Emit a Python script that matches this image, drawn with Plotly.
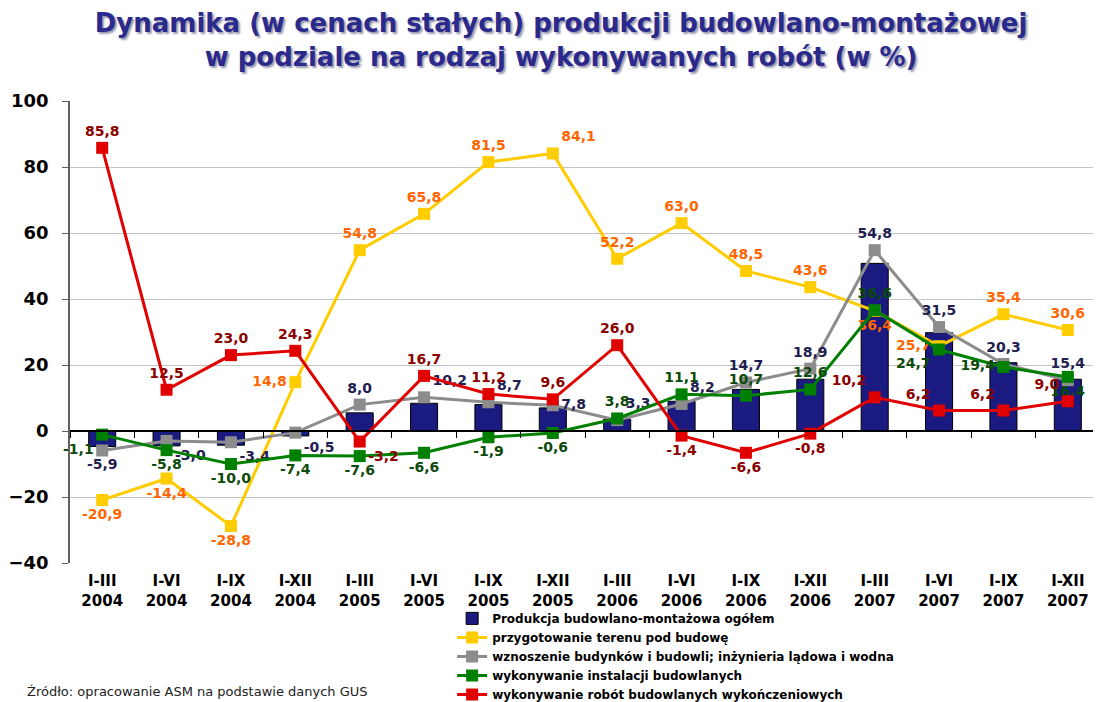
import plotly.graph_objects as go

periods = ["I-III", "I-VI", "I-IX", "I-XII"] * 4
years = ["2004"] * 4 + ["2005"] * 4 + ["2006"] * 4 + ["2007"] * 4
categories = [f"{p}<br>{y}" for p, y in zip(periods, years)]

total = [-4.7, -4.5, -4.3, -1.5, 5.5, 8.4, 8.0, 7.0, 3.6, 9.0, 12.6, 15.7, 50.8, 29.8, 20.7, 15.7]
teren = [-20.9, -14.4, -28.8, 14.8, 54.8, 65.8, 81.5, 84.1, 52.2, 63.0, 48.5, 43.6, 36.4, 25.7, 35.4, 30.6]
wznoszenie = [-5.9, -3.0, -3.4, -0.5, 8.0, 10.2, 8.7, 7.8, 3.3, 8.2, 14.7, 18.9, 54.8, 31.5, 20.3, 15.4]
instalacje = [-1.1, -5.8, -10.0, -7.4, -7.6, -6.6, -1.9, -0.6, 3.8, 11.1, 10.7, 12.6, 36.6, 24.7, 19.4, 16.4]
wykonczeniowe = [85.8, 12.5, 23.0, 24.3, -3.2, 16.7, 11.2, 9.6, 26.0, -1.4, -6.6, -0.8, 10.2, 6.2, 6.2, 9.0]

names = [
    "Produkcja budowlano-montażowa ogółem",
    "przygotowanie terenu pod budowę",
    "wznoszenie budynków i budowli; inżynieria lądowa i wodna",
    "wykonywanie instalacji budowlanych",
    "wykonywanie robót budowlanych wykończeniowych",
]

pos_teren = ["bottom center", "bottom center", "bottom center", "middle left", "top center",
             "top center", "top center", "top right", "top center", "top center", "top center",
             "top center", "bottom center", "middle left", "top center", "top center"]
pos_wzn = ["bottom center", "bottom right", "bottom right", "bottom right", "top center",
           "top right", "top right", "middle right", "top right", "top right", "top center",
           "top center", "top center", "top center", "top center", "top center"]
pos_inst = ["bottom left", "bottom center", "bottom center", "bottom center", "bottom center",
            "bottom center", "bottom center", "bottom center", "top center", "top center",
            "top center", "top center", "top center", "bottom left", "middle left", "bottom center"]
pos_wyk = ["top center", "top center", "top center", "top center", "bottom right", "top center",
           "top center", "top center", "top center", "bottom center", "bottom center",
           "bottom center", "top left", "top left", "top left", "top left"]

FONT = "DejaVu Sans, Verdana, sans-serif"


def fmt(v):
    return f"{v:.1f}".replace(".", ",")


fig = go.Figure()
fig.add_trace(go.Bar(
    x=categories, y=total, name=names[0], width=0.42,
    marker=dict(color="#1a1a80", line=dict(color="#000000", width=1)),
))

series = [
    (teren, names[1], "#ffcc00", "#ff6600", pos_teren),
    (wznoszenie, names[2], "#8c8c8c", "#1f2050", pos_wzn),
    (instalacje, names[3], "#008000", "#0b4a0b", pos_inst),
    (wykonczeniowe, names[4], "#e00000", "#8b0000", pos_wyk),
]
for vals, nm, col, tcol, pos in series:
    fig.add_trace(go.Scatter(
        x=categories, y=vals, name=nm, mode="lines+markers+text",
        line=dict(color=col, width=3),
        marker=dict(symbol="square", size=12, color=col),
        text=[fmt(v) for v in vals], textposition=pos,
        textfont=dict(family=FONT, size=14, color=tcol, weight="bold"),
        cliponaxis=False,
    ))

# the page body adds an 8px margin, so the figure is 8px smaller than the window
fig.update_layout(
    width=1093, height=694,
    paper_bgcolor="white", plot_bgcolor="white",
    margin=dict(l=62, r=1, t=93, b=139, autoexpand=False),
    font=dict(family=FONT, color="black"),
    title=dict(
        text="<b>Dynamika (w cenach stałych) produkcji budowlano-montażowej<br>w podziale na rodzaj wykonywanych robót (w %)</b>",
        x=0.506, xanchor="center", y=0.965, yanchor="top",
        font=dict(family=FONT, size=26, color="#2a2a8c", shadow="2px 2px 2px #9a9ab0"),
    ),
    showlegend=True,
    legend=dict(
        x=0.371, xanchor="left", y=-0.0885, yanchor="top",
        font=dict(family=FONT, size=12, color="black", weight="bold"),
        bgcolor="rgba(0,0,0,0)", tracegroupgap=0,
    ),
    xaxis=dict(
        type="category", showgrid=False, showline=False, ticks="",
        tickfont=dict(family=FONT, size=15, color="black", weight="bold"),
        range=[-0.5, 15.5], ticklabelstandoff=7,
    ),
    xaxis2=dict(
        overlaying="x", anchor="free", position=40 / 140, side="bottom",
        range=[-0.5, 15.5], showgrid=False, showline=True, linecolor="black", linewidth=1.5,
        ticks="outside", ticklen=6, tickcolor="black",
        tickvals=[i + 0.5 for i in range(-1, 16)], showticklabels=False, zeroline=False,
    ),
    yaxis=dict(
        range=[-40, 100], dtick=20, showgrid=True, gridcolor="#c4c4c4", gridwidth=1,
        showline=True, linecolor="#606060", linewidth=1.5, ticks="outside", ticklen=6,
        tickcolor="#606060", zeroline=False,
        tickfont=dict(family=FONT, size=18, color="black", weight="bold"),
        ticklabelstandoff=10,
    ),
    annotations=[dict(
        text="Źródło: opracowanie ASM na podstawie danych GUS",
        xref="paper", yref="paper", x=-0.0437, y=-0.279, xanchor="left", yanchor="middle",
        showarrow=False, font=dict(family=FONT, size=13, color="#222222"),
    )],
)
# helper trace that activates xaxis2 (axis line at y=0 with category-boundary ticks)
fig.add_trace(go.Scatter(x=[None], y=[None], xaxis="x2", showlegend=False, hoverinfo="skip"))

fig.write_html("out.html")
